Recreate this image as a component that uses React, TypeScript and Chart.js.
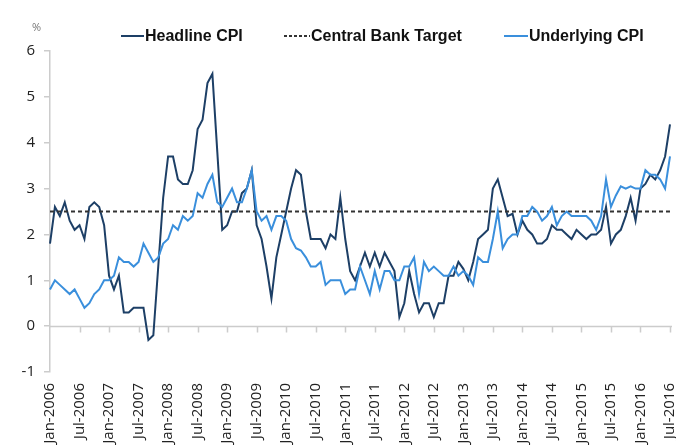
import React, { useEffect, useRef } from "react";
import { Chart, registerables } from "chart.js";

Chart.register(...registerables);

const years = [2006, 2007, 2008, 2009, 2010, 2011, 2012, 2013, 2014, 2015, 2016];
const monthNames = ["Jan", "Feb", "Mar", "Apr", "May", "Jun", "Jul", "Aug", "Sep", "Oct", "Nov", "Dec"];
const lastYearMonths = 7;

const categories: string[] = [];
years.forEach((yr, yi) => {
  const n = yi === years.length - 1 ? lastYearMonths : 12;
  for (let m = 0; m < n; m++) categories.push(`${monthNames[m]}-${yr}`);
});

const tickLabels = [
  "Jan-2006", "Jul-2006", "Jan-2007", "Jul-2007", "Jan-2008", "Jul-2008",
  "Jan-2009", "Jul-2009", "Jan-2010", "Jul-2010", "Jan-2011", "Jul-2011",
  "Jan-2012", "Jul-2012", "Jan-2013", "Jul-2013", "Jan-2014", "Jul-2014",
  "Jan-2015", "Jul-2015", "Jan-2016", "Jul-2016",
];

const headlineCPI = [
  1.8, 2.6, 2.4, 2.7, 2.3, 2.1, 2.2, 1.9, 2.6, 2.7, 2.6, 2.2,
  1.1, 0.8, 1.1, 0.3, 0.3, 0.4, 0.4, 0.4, -0.3, -0.2, 1.3, 2.8,
  3.7, 3.7, 3.2, 3.1, 3.1, 3.4, 4.3, 4.5, 5.3, 5.5, 3.8, 2.1,
  2.2, 2.5, 2.5, 2.9, 3.0, 3.4, 2.2, 1.9, 1.3, 0.6, 1.5, 2.0,
  2.5, 3.0, 3.4, 3.3, 2.5, 1.9, 1.9, 1.9, 1.7, 2.0, 1.9, 2.8,
  1.9, 1.2, 1.0, 1.3, 1.6, 1.3, 1.6, 1.3, 1.6, 1.4, 1.2, 0.2,
  0.5, 1.2, 0.7, 0.3, 0.5, 0.5, 0.2, 0.5, 0.5, 1.1, 1.1, 1.4,
  1.25, 1.0, 1.4, 1.9, 2.0, 2.1, 3.0, 3.2, 2.8, 2.4, 2.45, 2.0,
  2.3, 2.1, 2.0, 1.8, 1.8, 1.9, 2.2, 2.1, 2.1, 2.0, 1.9, 2.1,
  2.0, 1.9, 2.0, 2.0, 2.1, 2.6, 1.8, 2.0, 2.1, 2.4, 2.8, 2.3,
  3.0, 3.1, 3.3, 3.2, 3.4, 3.7, 4.4,
];

const underlyingCPI = [
  0.8, 1.0, 0.9, 0.8, 0.7, 0.8, 0.6, 0.4, 0.5, 0.7, 0.8, 1.0,
  1.0, 1.1, 1.5, 1.4, 1.4, 1.3, 1.4, 1.8, 1.6, 1.4, 1.5, 1.8,
  1.9, 2.2, 2.1, 2.4, 2.3, 2.4, 2.9, 2.8, 3.1, 3.3, 2.7, 2.6,
  2.8, 3.0, 2.7, 2.7, 3.0, 3.4, 2.5, 2.3, 2.4, 2.1, 2.4, 2.4,
  2.3, 1.9, 1.7, 1.65, 1.5, 1.3, 1.3, 1.4, 0.9, 1.0, 1.0, 1.0,
  0.7, 0.8, 0.8, 1.3, 1.0, 0.7, 1.2, 0.8, 1.2, 1.2, 1.0, 1.0,
  1.3, 1.3, 1.5, 0.7, 1.4, 1.2, 1.3, 1.2, 1.1, 1.1, 1.3, 1.1,
  1.2, 1.1, 0.9, 1.5, 1.4, 1.4, 1.9, 2.5, 1.7, 1.9, 2.0, 2.0,
  2.4, 2.4, 2.6, 2.5, 2.3, 2.4, 2.6, 2.2, 2.4, 2.5, 2.4, 2.4,
  2.4, 2.4, 2.3, 2.1, 2.4, 3.2, 2.6, 2.85, 3.05, 3.0, 3.05, 3.0,
  3.0, 3.4, 3.3, 3.3, 3.2, 3.0, 3.7,
];

const targetValue = 2.5;

const yTicks = { min: -1, max: 6, step: 1 };

const COLORS = {
  headline: "#1d3f66",
  underlying: "#3a8fdc",
  target: "#333333",
  axis: "#cccccc",
  text: "#222222",
};

const zeroLinePlugin = {
  id: "zeroLine",
  beforeDatasetsDraw(chart: any) {
    const { ctx, chartArea, scales } = chart;
    const x = scales.x;
    const y = scales.y;
    const y0 = Math.round(y.getPixelForValue(0)) + 0.5;
    ctx.save();
    ctx.strokeStyle = COLORS.axis;
    ctx.lineWidth = 1.5;
    ctx.beginPath();
    ctx.moveTo(chartArea.left, y0);
    ctx.lineTo(chartArea.right + 2, y0);
    categories.forEach((c, i) => {
      if (i > 0 && tickLabels.includes(c)) {
        const px = Math.round(x.getPixelForValue(i)) + 0.5;
        ctx.moveTo(px, y0);
        ctx.lineTo(px, y0 + 6);
      }
    });
    ctx.stroke();
    ctx.restore();
  },
};

export default function App() {
  const canvasRef = useRef<HTMLCanvasElement | null>(null);

  useEffect(() => {
    document.body.style.margin = "0";
    const canvas = canvasRef.current;
    if (!canvas) return;
    const chart = new Chart(canvas, {
      type: "line",
      data: {
        labels: categories,
        datasets: [
          {
            label: "Underlying CPI",
            data: underlyingCPI,
            borderColor: COLORS.underlying,
            backgroundColor: COLORS.underlying,
            borderWidth: 2,
            pointRadius: 0,
            tension: 0,
            order: 0,
          },
          {
            label: "Central Bank Target",
            data: [
              { x: categories[0], y: targetValue },
              { x: categories[categories.length - 1], y: targetValue },
            ] as any,
            borderColor: COLORS.target,
            borderWidth: 2,
            borderDash: [4, 3],
            pointRadius: 0,
            order: 1,
          },
          {
            label: "Headline CPI",
            data: headlineCPI,
            borderColor: COLORS.headline,
            backgroundColor: COLORS.headline,
            borderWidth: 2,
            pointRadius: 0,
            tension: 0,
            order: 2,
          },
        ],
      },
      options: {
        responsive: false,
        maintainAspectRatio: false,
        animation: false,
        layout: { padding: { top: 51, right: 6, left: 0, bottom: 0 } },
        plugins: {
          legend: { display: false },
          tooltip: { enabled: false },
        },
        scales: {
          x: {
            type: "category",
            offset: false,
            grid: { display: false, drawTicks: false },
            border: { display: false },
            ticks: {
              autoSkip: false,
              maxRotation: 90,
              minRotation: 90,
              padding: 11,
              color: COLORS.text,
              font: { family: "'Open Sans', sans-serif", size: 15 },
              callback: (_v: any, i: number) =>
                tickLabels.includes(categories[i]) ? categories[i] : "",
            },
            afterFit: (s: any) => {
              s.height = 74;
              s.paddingRight = 0;
              s.paddingLeft = 0;
            },
          },
          y: {
            min: yTicks.min,
            max: yTicks.max,
            ticks: {
              stepSize: yTicks.step,
              padding: 9,
              color: COLORS.text,
              font: { family: "'Open Sans', sans-serif", size: 15 },
            },
            grid: {
              drawOnChartArea: false,
              drawTicks: true,
              tickLength: 6,
              color: COLORS.axis,
              lineWidth: 1.5,
            },
            border: { display: true, color: COLORS.axis, width: 1.5 },
            afterFit: (s: any) => {
              s.width = 50;
            },
          },
        },
      },
      plugins: [zeroLinePlugin],
    });
    return () => chart.destroy();
  }, []);

  const legendFont: React.CSSProperties = {
    fontFamily: "'Liberation Sans', Arial, sans-serif",
    fontWeight: "bold",
    fontSize: 16,
    color: "#111",
    whiteSpace: "nowrap",
  };

  const item = (left: number, swatch: React.ReactNode, text: string) => (
    <div
      style={{
        position: "absolute",
        left,
        top: 26,
        height: 20,
        display: "flex",
        alignItems: "center",
      }}
    >
      {swatch}
      <span style={{ ...legendFont, marginLeft: 1 }}>{text}</span>
    </div>
  );

  return (
    <div style={{ position: "relative", width: 676, height: 446, overflow: "hidden", background: "#fff" }}>
      <canvas ref={canvasRef} width={676} height={446} style={{ display: "block" }} />
      <div
        style={{
          position: "absolute",
          left: 32,
          top: 19,
          fontFamily: "'Open Sans', sans-serif",
          fontSize: 11,
          color: "#777",
        }}
      >
        %
      </div>
      {item(121, <span style={{ display: "inline-block", width: 23, height: 2, background: COLORS.headline }} />, "Headline CPI")}
      {item(
        284,
        <span
          style={{
            display: "inline-block",
            width: 26,
            height: 2,
            background: `repeating-linear-gradient(90deg, ${COLORS.target} 0 3px, transparent 3px 5px)`,
          }}
        />,
        "Central Bank Target"
      )}
      {item(504, <span style={{ display: "inline-block", width: 24, height: 2, background: COLORS.underlying }} />, "Underlying CPI")}
    </div>
  );
}
